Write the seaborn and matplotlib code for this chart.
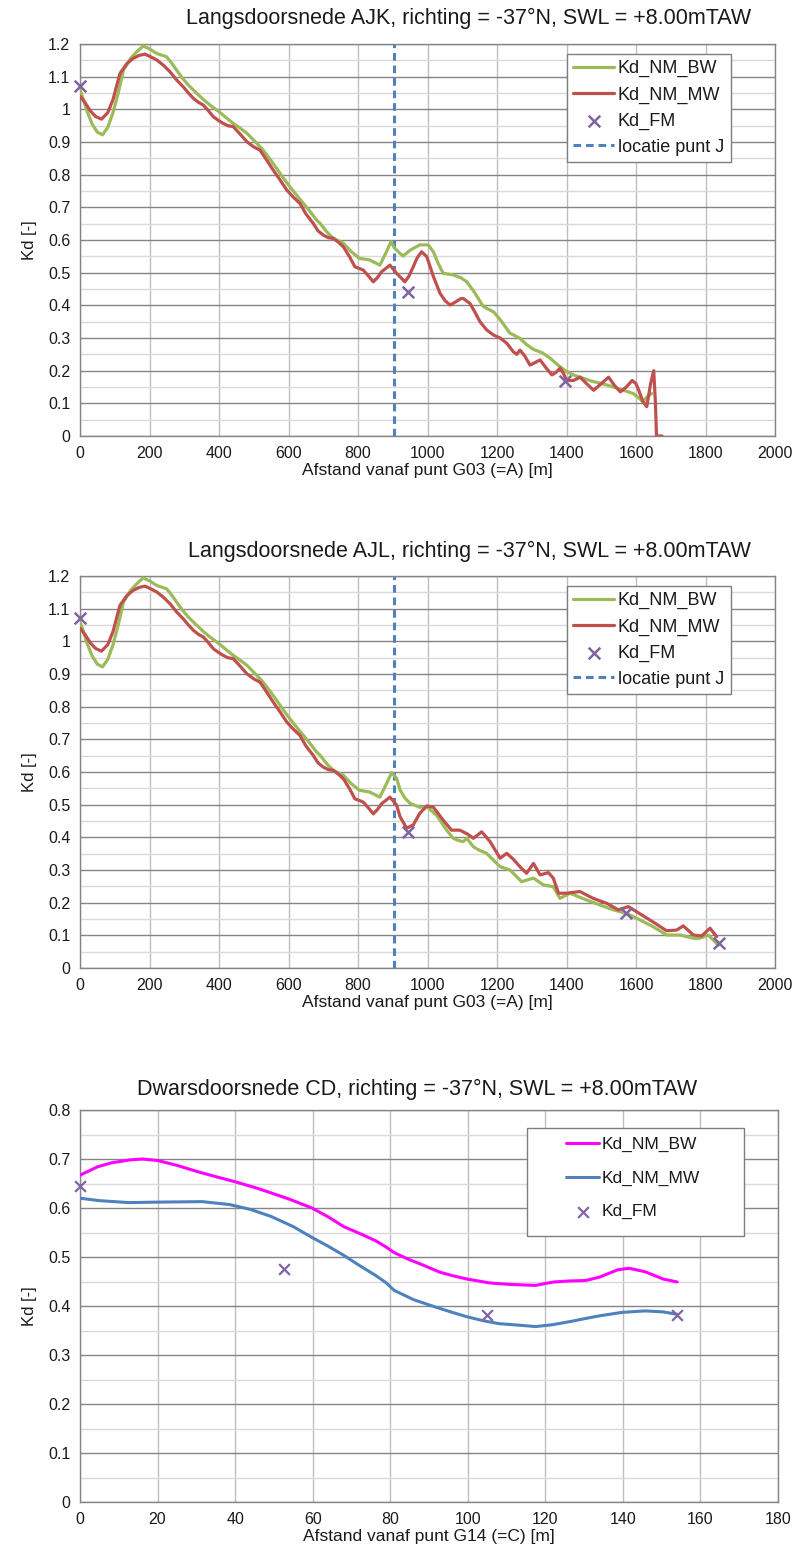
import numpy as np
import pandas as pd
import matplotlib
matplotlib.use("Agg")
import matplotlib.pyplot as plt
import seaborn as sns
from matplotlib.ticker import MultipleLocator, FuncFormatter
from matplotlib.patches import Rectangle

# ---------------- data ----------------
# shared first part of the longitudinal sections (0 - ~890 m)
common_bw_x = [0, 10, 20, 35, 50, 65, 80, 95, 110, 125, 145, 163, 182, 200, 221, 249, 265, 278, 295, 312,
               336, 355, 374, 400, 420, 441, 460, 480, 505, 527, 545, 566, 585, 604, 625, 643, 660, 681,
               691, 710, 729, 758, 780, 804, 833, 850, 863, 880]
common_bw_y = [1.06, 1.03, 0.995, 0.955, 0.93, 0.922, 0.945, 0.99, 1.05, 1.12, 1.155, 1.176, 1.194, 1.185,
               1.171, 1.161, 1.14, 1.12, 1.095, 1.074, 1.049, 1.03, 1.013, 0.993, 0.975, 0.957, 0.943, 0.927,
               0.9, 0.875, 0.85, 0.819, 0.79, 0.763, 0.735, 0.712, 0.69, 0.661, 0.651, 0.625, 0.605, 0.59,
               0.565, 0.544, 0.539, 0.53, 0.523, 0.56]
common_mw_x = [0, 15, 30, 45, 62, 80, 95, 115, 135, 153, 170, 187, 205, 221, 240, 259, 278, 297, 312, 326,
               340, 355, 370, 384, 400, 412, 425, 441, 460, 480, 500, 518, 537, 556, 575, 595, 615, 633,
               650, 671, 685, 700, 715, 729, 745, 758, 775, 791, 815, 830, 844, 856, 868, 880, 892]
common_mw_y = [1.04, 1.02, 0.995, 0.978, 0.97, 0.99, 1.03, 1.11, 1.14, 1.156, 1.165, 1.169, 1.16, 1.151,
               1.135, 1.115, 1.09, 1.069, 1.05, 1.034, 1.022, 1.013, 0.995, 0.977, 0.965, 0.957, 0.95, 0.947,
               0.925, 0.901, 0.885, 0.875, 0.845, 0.814, 0.785, 0.753, 0.73, 0.712, 0.68, 0.651, 0.628,
               0.615, 0.607, 0.605, 0.592, 0.579, 0.55, 0.518, 0.508, 0.49, 0.472, 0.485, 0.503, 0.513, 0.523]

# AJK tails
ajk_bw_x = [895, 905, 921, 930, 950, 978, 1002, 1017, 1030, 1045, 1074, 1095, 1113, 1135, 1161, 1190, 1210,
            1237, 1266, 1285, 1305, 1330, 1353, 1378, 1400, 1425, 1448, 1472, 1496, 1520, 1544, 1570, 1592,
            1610, 1620, 1632, 1645]
ajk_bw_y = [0.595, 0.575, 0.559, 0.551, 0.569, 0.585, 0.585, 0.564, 0.53, 0.498, 0.493, 0.485, 0.472, 0.44,
            0.396, 0.38, 0.355, 0.315, 0.299, 0.28, 0.265, 0.255, 0.238, 0.215, 0.197, 0.185, 0.177, 0.168,
            0.162, 0.155, 0.147, 0.138, 0.13, 0.115, 0.105, 0.12, 0.13]
ajk_mw_x = [911, 935, 947, 959, 970, 983, 998, 1017, 1036, 1050, 1065, 1080, 1095, 1103, 1122, 1136, 1151,
            1170, 1190, 1209, 1228, 1247, 1257, 1266, 1280, 1295, 1310, 1324, 1340, 1358, 1370, 1382, 1392,
            1400, 1420, 1439, 1458, 1478, 1500, 1521, 1538, 1555, 1572, 1589, 1600, 1608, 1620, 1631, 1642,
            1651, 1656, 1659, 1675]
ajk_mw_y = [0.498, 0.472, 0.49, 0.518, 0.545, 0.564, 0.549, 0.488, 0.437, 0.415, 0.401, 0.41, 0.42, 0.421,
            0.406, 0.38, 0.35, 0.325, 0.309, 0.3, 0.284, 0.258, 0.25, 0.263, 0.245, 0.217, 0.225, 0.233,
            0.21, 0.187, 0.195, 0.208, 0.19, 0.17, 0.17, 0.18, 0.16, 0.14, 0.16, 0.18, 0.155, 0.135, 0.15,
            0.17, 0.16, 0.14, 0.105, 0.09, 0.16, 0.2, 0.1, 0.0, 0.0]
ajk_fm_x = [0, 945, 1395]
ajk_fm_y = [1.07, 0.44, 0.167]

# AJL tails
ajl_bw_x = [897, 911, 921, 935, 950, 978, 998, 1026, 1055, 1074, 1090, 1103, 1113, 1132, 1150, 1170, 1190,
            1209, 1237, 1247, 1271, 1285, 1305, 1334, 1362, 1381, 1410, 1435, 1458, 1496, 1535, 1573, 1612,
            1650, 1688, 1727, 1765, 1783, 1808, 1837]
ajl_bw_y = [0.598, 0.581, 0.545, 0.52, 0.504, 0.492, 0.494, 0.468, 0.422, 0.397, 0.39, 0.387, 0.397, 0.371,
            0.36, 0.351, 0.33, 0.31, 0.3, 0.29, 0.264, 0.269, 0.275, 0.254, 0.249, 0.213, 0.229, 0.218, 0.208,
            0.193, 0.178, 0.167, 0.147, 0.126, 0.101, 0.101, 0.091, 0.091, 0.101, 0.07]
ajl_mw_x = [911, 921, 940, 959, 978, 998, 1017, 1045, 1069, 1093, 1115, 1132, 1156, 1180, 1209, 1228, 1247,
            1266, 1285, 1305, 1324, 1348, 1362, 1377, 1400, 1439, 1477, 1516, 1549, 1578, 1602, 1640, 1665,
            1688, 1717, 1736, 1765, 1789, 1813, 1832]
ajl_mw_y = [0.499, 0.463, 0.428, 0.438, 0.474, 0.496, 0.492, 0.453, 0.422, 0.422, 0.41, 0.397, 0.417, 0.387,
            0.336, 0.351, 0.333, 0.31, 0.29, 0.32, 0.285, 0.292, 0.275, 0.229, 0.229, 0.234, 0.213, 0.198,
            0.178, 0.188, 0.172, 0.147, 0.13, 0.114, 0.116, 0.129, 0.101, 0.098, 0.122, 0.096]
ajl_fm_x = [0, 945, 1570, 1840]
ajl_fm_y = [1.07, 0.415, 0.167, 0.078]

location_J = 905

# cross section CD
cd_bw_x = [0, 4.5, 8, 12.7, 16, 20, 25, 30.4, 35, 39.8, 45, 49.2, 54, 59.8, 64, 68, 72.7, 76.3, 79, 81, 84.5,
           88, 92.8, 96, 99.8, 105.7, 111, 117.5, 120, 122.2, 126, 130.4, 134, 138.7, 141.6, 145.7, 150.4, 154]
cd_bw_y = [0.667, 0.684, 0.692, 0.698, 0.700, 0.697, 0.687, 0.674, 0.664, 0.654, 0.642, 0.631, 0.618, 0.600,
           0.582, 0.562, 0.546, 0.533, 0.520, 0.509, 0.496, 0.485, 0.469, 0.462, 0.455, 0.447, 0.444, 0.442,
           0.446, 0.449, 0.451, 0.452, 0.459, 0.474, 0.477, 0.470, 0.455, 0.449]
cd_mw_x = [0, 5, 12.7, 20, 31.5, 38.6, 44, 49.2, 55, 59.8, 64, 68.1, 72, 76.3, 79, 81, 86, 91.6, 96, 99.8,
           104, 108, 113, 117.5, 122, 126.9, 130, 134, 139.8, 145.7, 150.4, 154]
cd_mw_y = [0.620, 0.615, 0.611, 0.612, 0.613, 0.607, 0.597, 0.583, 0.562, 0.540, 0.522, 0.503, 0.483, 0.462,
           0.447, 0.432, 0.413, 0.398, 0.387, 0.378, 0.370, 0.364, 0.361, 0.358, 0.362, 0.369, 0.374, 0.380,
           0.387, 0.390, 0.388, 0.383]
cd_fm_x = [0, 52.5, 105, 154]
cd_fm_y = [0.645, 0.475, 0.382, 0.382]

titles = ["Langsdoorsnede AJK, richting = -37°N, SWL = +8.00mTAW",
          "Langsdoorsnede AJL, richting = -37°N, SWL = +8.00mTAW",
          "Dwarsdoorsnede CD, richting = -37°N, SWL = +8.00mTAW"]
xlabels = ["Afstand vanaf punt G03 (=A) [m]", "Afstand vanaf punt G03 (=A) [m]",
           "Afstand vanaf punt G14 (=C) [m]"]

# ---------------- style ----------------
sns.set_style("white")
plt.rcParams['font.family'] = ['Liberation Sans', 'DejaVu Sans']
TXT = '#1a1a1a'
GREEN, RED, PURPLE, DBLUE = '#9BBB59', '#C0504D', '#8064A2', '#4F81BD'
MAGENTA, BLUE = '#FF00FF', '#4F81BD'

W, H = 802, 1564
fig = plt.figure(figsize=(W / 100, H / 100), dpi=100)


def add_ax(l, t, r, b):
    return fig.add_axes([l / W, 1 - b / H, (r - l) / W, (b - t) / H])


def style(ax, xmax, xstep, ymax, xlabel):
    ax.set_xlim(0, xmax)
    ax.set_ylim(0, ymax)
    ax.xaxis.set_major_locator(MultipleLocator(xstep))
    ax.yaxis.set_major_locator(MultipleLocator(0.1))
    ax.yaxis.set_minor_locator(MultipleLocator(0.05))
    ax.yaxis.set_major_formatter(FuncFormatter(lambda v, p: f'{v:g}'))
    ax.grid(which='minor', axis='y', color='#d9d9d9', lw=1.0)
    ax.grid(which='major', axis='y', color='#858585', lw=1.0)
    ax.grid(which='major', axis='x', color='#bfbfbf', lw=1.0)
    ax.set_axisbelow(True)
    for s in ax.spines.values():
        s.set_color('#858585')
        s.set_linewidth(1.0)
    ax.tick_params(which='major', direction='out', length=4, width=1, color='#858585',
                   labelsize=11.5, labelcolor=TXT, pad=3)
    ax.tick_params(which='minor', length=0)
    ax.set_xlabel(xlabel, fontsize=12.5, color=TXT, labelpad=2)
    ax.set_ylabel('Kd [-]', fontsize=12, color=TXT, labelpad=8)


def long_section(ax, bw_x, bw_y, mw_x, mw_y, fm_x, fm_y, xlabel):
    df_bw = pd.DataFrame({'x': bw_x, 'y': bw_y})
    df_mw = pd.DataFrame({'x': mw_x, 'y': mw_y})
    df_fm = pd.DataFrame({'x': fm_x, 'y': fm_y})
    sns.lineplot(data=df_bw, x='x', y='y', ax=ax, color=GREEN, lw=2.3, estimator=None, sort=False,
                 label='Kd_NM_BW', zorder=3)
    sns.lineplot(data=df_mw, x='x', y='y', ax=ax, color=RED, lw=2.3, estimator=None, sort=False,
                 label='Kd_NM_MW', zorder=3)
    sns.scatterplot(data=df_fm, x='x', y='y', ax=ax, marker='x', s=70, color=PURPLE, linewidth=1.8,
                    label='Kd_FM', zorder=5, clip_on=False)
    ax.axvline(location_J, color=DBLUE, ls=(0, (2.5, 1.6)), lw=2.2, label='locatie punt J', zorder=2)
    style(ax, 2000, 200, 1.2, xlabel)
    leg = ax.legend(loc='upper left', bbox_to_anchor=(0.700, 0.975), fontsize=13, frameon=True,
                    fancybox=False, edgecolor='#7f7f7f', framealpha=1, borderpad=0.35,
                    labelspacing=0.5, handlelength=2.3, handletextpad=0.2, borderaxespad=0)
    leg.get_frame().set_linewidth(1.0)
    for t in leg.get_texts():
        t.set_color(TXT)


ax1 = add_ax(80, 44, 775, 436)
long_section(ax1, common_bw_x + ajk_bw_x, common_bw_y + ajk_bw_y,
             common_mw_x + ajk_mw_x, common_mw_y + ajk_mw_y, ajk_fm_x, ajk_fm_y, xlabels[0])

ax2 = add_ax(80, 576, 775, 968)
long_section(ax2, common_bw_x + ajl_bw_x, common_bw_y + ajl_bw_y,
             common_mw_x + ajl_mw_x, common_mw_y + ajl_mw_y, ajl_fm_x, ajl_fm_y, xlabels[1])

ax3 = add_ax(80, 1110, 778, 1502)
sns.lineplot(x=cd_bw_x, y=cd_bw_y, ax=ax3, color=MAGENTA, lw=2.2, estimator=None, sort=False,
             label='Kd_NM_BW', zorder=3)
sns.lineplot(x=cd_mw_x, y=cd_mw_y, ax=ax3, color=BLUE, lw=2.2, estimator=None, sort=False,
             label='Kd_NM_MW', zorder=3)
sns.scatterplot(x=cd_fm_x, y=cd_fm_y, ax=ax3, marker='x', s=60, color=PURPLE, linewidth=1.6,
                label='Kd_FM', zorder=5, clip_on=False)
style(ax3, 180, 20, 0.8, xlabels[2])
ax3.add_patch(Rectangle((0.640, 0.679), 0.311, 0.275, transform=ax3.transAxes, facecolor='white',
                        edgecolor='#7f7f7f', lw=1.0, zorder=4))
leg3 = ax3.legend(loc='upper left', bbox_to_anchor=(0.692, 0.940), fontsize=12.5, frameon=False,
                  borderpad=0.2, labelspacing=1.05, handlelength=1.9, handletextpad=0.1, borderaxespad=0)
leg3.set_zorder(6)
for t in leg3.get_texts():
    t.set_color(TXT)

fig.text(469 / W, 1 - 18 / H, titles[0], ha='center', va='center', fontsize=15.5, color=TXT)
fig.text(469 / W, 1 - 551 / H, titles[1], ha='center', va='center', fontsize=15.5, color=TXT)
fig.text(417 / W, 1 - 1089 / H, titles[2], ha='center', va='center', fontsize=15.5, color=TXT)

fig.savefig('out.png', dpi=100)
